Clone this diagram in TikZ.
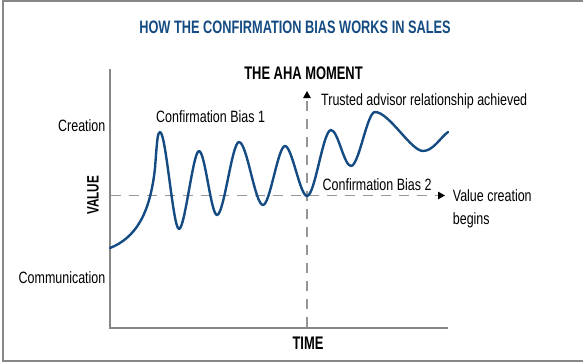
\documentclass[tikz,border=0pt]{standalone}
\usepackage{fontspec}
\setmainfont{Liberation Sans}[FakeStretch=0.76]
\newfontfamily\headfont{Liberation Sans}[FakeStretch=0.71]
\usetikzlibrary{arrows.meta}
\definecolor{deepblue}{RGB}{20,75,130}
\definecolor{axisgray}{RGB}{135,135,135}
\definecolor{dashgray}{RGB}{150,150,150}
\begin{document}
\begin{tikzpicture}[x=1pt,y=-1pt,
  lbl/.style={inner sep=0pt,font=\fontsize{16.4}{18}\selectfont},
  head/.style={inner sep=0pt,font=\headfont\bfseries\fontsize{18.2}{20}\selectfont},
  axisline/.style={draw=axisgray,line width=1.6pt},
  guide/.style={draw=dashgray,line width=1.2pt,dash pattern=on 10pt off 8pt,
    -{Triangle[width=7.5pt,length=7pt,color=black]}},
  valuecurve/.style={draw=deepblue,line width=2.4pt,line join=round,line cap=round}]
\useasboundingbox (0,0) rectangle (583,362);
% frame
\draw[axisgray,line width=2pt] (2.8,0.8) -- (2.8,361);
\draw[axisgray,line width=1.6pt] (2,0.8) -- (583,0.8);
\draw[axisgray,line width=1.6pt] (2,361) -- (583,361);

% title
\node[head,text=deepblue,font=\headfont\bfseries\fontsize{18}{20}\selectfont] (title) at (295,27) {HOW THE CONFIRMATION BIAS WORKS IN SALES};

% axes
\coordinate (ytop) at (110,69);
\coordinate (origin) at (110,328);
\coordinate (xend) at (448,328);
\draw[axisline] (ytop) -- (origin) -- (xend);

% guide lines
\coordinate (hstart) at (111,195.5);
\coordinate (hend) at (445,195.5);
\coordinate (vstart) at (307,327);
\coordinate (vend) at (307,91);
\draw[guide] (hstart) -- (hend);
\draw[guide] (vstart) -- (vend);

% value curve: oscillations between successive extremes
\draw[valuecurve] (110,248)
  .. controls (135,238) and (150,215) .. (155,168)
  .. controls (157,142) and (157.5,132) .. (160,132)
  .. controls +(6,0) and +(-6,0) .. (179,229)
  .. controls +(6,0) and +(-6,0) .. (199,151)
  .. controls +(6,0) and +(-6,0) .. (217,215)
  .. controls +(7,0) and +(-7,0) .. (239,142)
  .. controls +(8,0) and +(-8,0) .. (263,205)
  .. controls +(7,0) and +(-7,0) .. (285,146)
  .. controls +(7,0) and +(-7,0) .. (307,196)
  .. controls +(8,0) and +(-8,0) .. (331,130)
  .. controls +(7,0) and +(-7,0) .. (351,166)
  .. controls +(8,0) and +(-8,0) .. (375,112)
  .. controls +(14,0) and +(-12,0) .. (423,151)
  .. controls +(10,0) and +(-8,6) .. (448,132);

% labels
\node[head] (aha) at (303.5,73.5) {THE AHA MOMENT};
\node[lbl,anchor=base west] (trusted) at (321,105.7) {Trusted advisor relationship achieved};
\node[lbl,anchor=base west] (bias1) at (156,122.5) {Confirmation Bias 1};
\node[lbl,anchor=base east] (creation) at (105.5,131.7) {Creation};
\node[lbl,anchor=base east] (comm) at (105.5,283.3) {Communication};
\node[head,rotate=90,font=\headfont\bfseries\fontsize{16.5}{18}\selectfont] (value) at (93,195.5) {VALUE};
\node[lbl,anchor=base west] (bias2) at (322.5,190.7) {Confirmation Bias 2};
\node[lbl,anchor=base west] (valcreation) at (452.7,201.7) {Value creation};
\node[lbl,anchor=base west] (begins) at (452.7,224) {begins};
\node[head,anchor=base] (time) at (308,349) {TIME};
\end{tikzpicture}
\end{document}
